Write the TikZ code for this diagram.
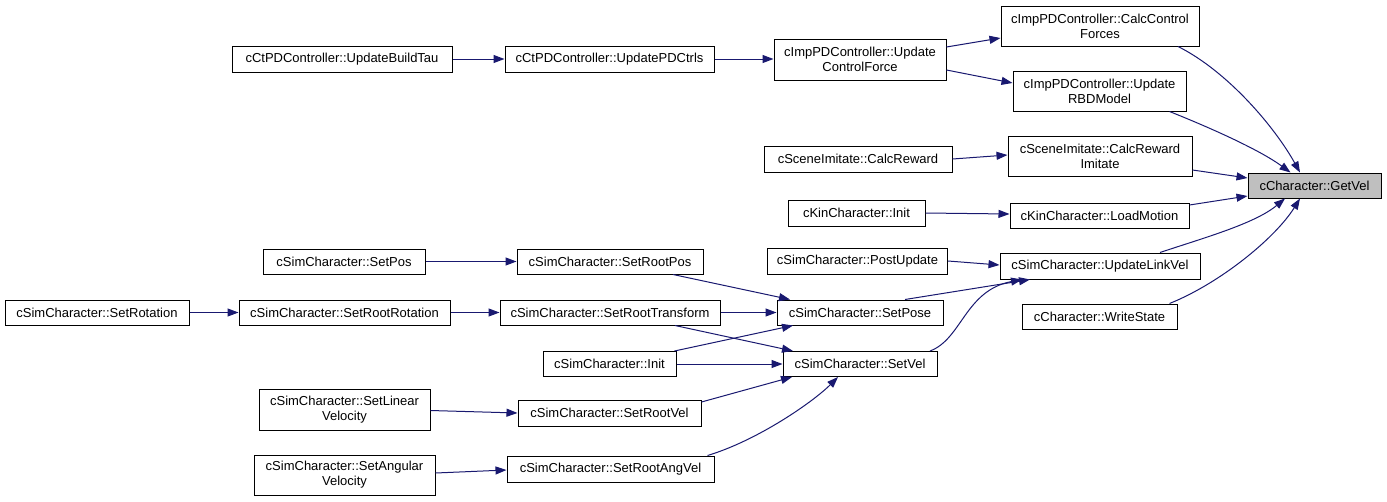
\documentclass[tikz,border=0pt]{standalone}
\usepackage{fontspec}
\setmainfont{Liberation Sans}
\usetikzlibrary{arrows.meta,calc}
\definecolor{edgeblue}{HTML}{191970}
\definecolor{rootgray}{HTML}{BFBFBF}
\begin{document}
\begin{tikzpicture}[x=1pt,y=-1pt,
  box/.style={draw=black,line width=1pt,fill=white,rectangle,inner sep=0pt,align=center,
    font=\fontsize{13}{15}\selectfont},
  edge/.style={draw=edgeblue,line width=1pt,-{Triangle[length=11pt,width=8pt]}}]
\useasboundingbox[fill=white] (0,0) rectangle (1387,501);
% nodes
\node[box,fill=rootgray,minimum width=133pt,minimum height=25pt] (getvel) at (1314.5,185.5) {cCharacter::GetVel};
\node[box,minimum width=198pt,minimum height=40pt] (ccf) at (1100,26) {cImpPDController::CalcControl\\Forces};
\node[box,minimum width=173pt,minimum height=40pt] (rbd) at (1099.5,91) {cImpPDController::Update\\RBDModel};
\node[box,minimum width=184pt,minimum height=40pt] (cri) at (1100,156.5) {cSceneImitate::CalcReward\\Imitate};
\node[box,minimum width=179pt,minimum height=25pt] (lm) at (1099.5,215.5) {cKinCharacter::LoadMotion};
\node[box,minimum width=200pt,minimum height=26pt] (ulv) at (1100,266) {cSimCharacter::UpdateLinkVel};
\node[box,minimum width=155pt,minimum height=25pt] (ws) at (1099.5,316.5) {cCharacter::WriteState};
\node[box,minimum width=172pt,minimum height=41pt] (ucf) at (860,59.5) {cImpPDController::Update\\ControlForce};
\node[box,minimum width=209pt,minimum height=26pt] (upd) at (609.5,59) {cCtPDController::UpdatePDCtrls};
\node[box,minimum width=220pt,minimum height=26pt] (ubt) at (342,59) {cCtPDController::UpdateBuildTau};
\node[box,minimum width=188pt,minimum height=26pt] (scr) at (858,159) {cSceneImitate::CalcReward};
\node[box,minimum width=137pt,minimum height=26pt] (kinit) at (856.5,213) {cKinCharacter::Init};
\node[box,minimum width=180pt,minimum height=26pt] (pu) at (857.5,261) {cSimCharacter::PostUpdate};
\node[box,minimum width=166pt,minimum height=25pt] (sp) at (860,312.5) {cSimCharacter::SetPose};
\node[box,minimum width=154pt,minimum height=25pt] (sv) at (860,364) {cSimCharacter::SetVel};
\node[box,minimum width=186pt,minimum height=25pt] (srp) at (610,261.5) {cSimCharacter::SetRootPos};
\node[box,minimum width=162pt,minimum height=25pt] (spos) at (344,261.5) {cSimCharacter::SetPos};
\node[box,minimum width=220pt,minimum height=25pt] (srt) at (610,312.5) {cSimCharacter::SetRootTransform};
\node[box,minimum width=211pt,minimum height=25pt] (srr) at (344.5,312.5) {cSimCharacter::SetRootRotation};
\node[box,minimum width=184pt,minimum height=25pt] (srot) at (97,312.5) {cSimCharacter::SetRotation};
\node[box,minimum width=133pt,minimum height=25pt] (sinit) at (609.5,364) {cSimCharacter::Init};
\node[box,minimum width=171pt,minimum height=41pt] (slv) at (344.5,409.5) {cSimCharacter::SetLinear\\Velocity};
\node[box,minimum width=183pt,minimum height=26pt] (srv) at (609.5,413) {cSimCharacter::SetRootVel};
\node[box,minimum width=181pt,minimum height=40pt] (sav) at (344.5,475) {cSimCharacter::SetAngular\\Velocity};
\node[box,minimum width=207pt,minimum height=26pt] (srav) at (610.5,469) {cSimCharacter::SetRootAngVel};
% edges into GetVel
\draw[edge] ($(ccf.south)+(78,0)$) .. controls +(50,25) and +(-25,-45) .. ($(getvel.north)+(-14.5,0)$);
\draw[edge] ($(rbd.south)+(70,0)$) .. controls +(45,18) and +(-30,-22) .. ($(getvel.north)+(-24,0)$);
\draw[edge] ($(cri.east)+(0,13.5)$) -- ($(getvel.west)+(0,-7.5)$);
\draw[edge] ($(lm.east)+(0,-10.5)$) -- ($(getvel.west)+(0,10.5)$);
\draw[edge] ($(ulv.north)+(60,0)$) .. controls +(45,-15) and +(-30,25) .. ($(getvel.south)+(-29.5,0)$);
\draw[edge] ($(ws.north)+(70,0)$) .. controls +(50,-20) and +(-25,40) .. ($(getvel.south)+(-14.5,0)$);
% second column
\draw[edge] ($(ucf.east)+(0,-12.5)$) -- ($(ccf.west)+(0,12)$);
\draw[edge] ($(ucf.east)+(0,10.5)$) -- ($(rbd.west)+(0,-8)$);
\draw[edge] (upd.east) -- (ucf.west |- upd.east);
\draw[edge] (ubt.east) -- (upd.west);
\draw[edge] (scr.east) -- ($(cri.west)+(0,-1.5)$);
\draw[edge] (kinit.east) -- ($(lm.west)+(0,-1.5)$);
\draw[edge] (pu.east) -- ($(ulv.west)+(0,-1)$);
\draw[edge] ($(sp.north)+(45,0)$) -- ($(ulv.south)+(-70,0)$);
\draw[edge] ($(sv.north)+(70,0)$) .. controls +(32,-12) and +(-57,11) .. ($(ulv.south)+(-78,0)$);
% third column
\draw[edge] ($(srp.south)+(63,0)$) -- ($(sp.north)+(-70,0)$);
\draw[edge] (srt.east) -- (sp.west);
\draw[edge] ($(srt.south)+(65,0)$) -- ($(sv.north)+(-67,0)$);
\draw[edge] ($(sinit.north)+(65,0)$) -- ($(sp.south)+(-67,0)$);
\draw[edge] (sinit.east) -- (sv.west);
\draw[edge] ($(srv.east)+(0,-11)$) -- ($(sv.south)+(-68,0)$);
\draw[edge] ($(srav.north)+(97,0)$) .. controls +(50,-15) and +(-25,25) .. ($(sv.south)+(-22,0)$);
% left columns
\draw[edge] (spos.east) -- (srp.west);
\draw[edge] (srr.east) -- (srt.west);
\draw[edge] (srot.east) -- (srr.west);
\draw[edge] ($(slv.east)+(0,1)$) -- (srv.west);
\draw[edge] ($(sav.east)+(0,-2)$) -- ($(srav.west)+(0,1)$);
\end{tikzpicture}
\end{document}
